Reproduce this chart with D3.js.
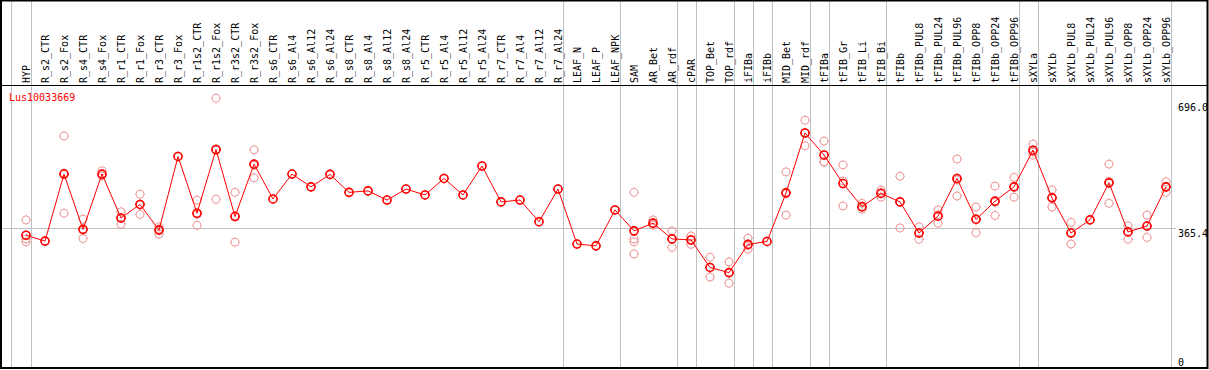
<!DOCTYPE html>
<html>
<head>
<meta charset="utf-8">
<script src="https://cdn.jsdelivr.net/npm/d3@7"></script>
<style>
  html, body { margin: 0; padding: 0; background: #fff; }
  svg { display: block; }
  text { font-family: "DejaVu Sans Mono", monospace; font-size: 10px; }
</style>
</head>
<body>
<div id="chart"></div>
<script>
// gene shown
const geneName = "Lus10033669";

// samples (columns)
const samples = ["HYP",
  "R_s2_CTR", "R_s2_Fox", "R_s4_CTR", "R_s4_Fox", "R_r1_CTR", "R_r1_Fox", "R_r3_CTR", "R_r3_Fox",
  "R_r1s2_CTR", "R_r1s2_Fox", "R_r3s2_CTR", "R_r3s2_Fox",
  "R_s6_CTR", "R_s6_Al4", "R_s6_Al12", "R_s6_Al24", "R_s8_CTR", "R_s8_Al4", "R_s8_Al12", "R_s8_Al24",
  "R_r5_CTR", "R_r5_Al4", "R_r5_Al12", "R_r5_Al24", "R_r7_CTR", "R_r7_Al4", "R_r7_Al12", "R_r7_Al24",
  "LEAF_N", "LEAF_P", "LEAF_NPK", "SAM", "AR_Bet", "AR_rdf", "cPAR", "TOP_Bet", "TOP_rdf",
  "iFIBa", "iFIBb", "MID_Bet", "MID_rdf", "tFIBa", "tFIB_Gr", "tFIB_Li", "tFIB_Bi", "tFIBb",
  "tFIBb_PUL8", "tFIBb_PUL24", "tFIBb_PUL96", "tFIBb_OPP8", "tFIBb_OPP24", "tFIBb_OPP96",
  "sXYLa", "sXYLb", "sXYLb_PUL8", "sXYLb_PUL24", "sXYLb_PUL96", "sXYLb_OPP8", "sXYLb_OPP24", "sXYLb_OPP96"];

// mean expression per sample
const means = [346, 330, 513, 362, 513, 393, 430, 360, 561,
  406, 580, 397, 540,
  445, 513, 478, 512, 463, 467, 442, 472,
  456, 501, 456, 535, 437, 442, 383, 472,
  322, 317, 415, 358, 379, 336, 333, 258, 244,
  321, 329, 461, 625, 565, 487, 424, 460, 437,
  352, 398, 501, 389, 439, 478,
  578, 448, 352, 388, 489, 355, 371, 478];

// individual replicates per sample
const replicates = [[388, 336, 328],
  [], [617, 406, 516], [390, 337, 360], [522, 510, 508], [410, 376, 393], [458, 403, 430], [369, 349, 363], [],
  [442, 373, 403], [720, 444, 578], [463, 327, 399], [579, 503, 537],
  [], [], [], [], [], [], [], [],
  [], [], [], [], [], [], [], [],
  [], [], [], [463, 336, 328, 295], [388, 374, 374], [358, 313, 336], [344, 321, 334], [286, 232, 258], [273, 215, 243],
  [338, 308, 318], [], [519, 401, 464], [660, 590, 626], [603, 546, 546], [538, 426, 494], [433, 417, 422], [469, 450, 463], [507, 366, 437],
  [369, 335, 352], [415, 379, 402], [554, 453, 497], [423, 353, 392], [480, 400, 436], [504, 450, 478],
  [595, 565, 573], [470, 423, 450], [381, 322, 353], [], [540, 433, 493], [372, 335, 357], [401, 340, 372], [492, 463, 477]];

// group separators are drawn after these samples
const groupEnds = ["HYP", "R_r7_Al24", "LEAF_NPK", "AR_rdf", "cPAR", "TOP_rdf", "iFIBa", "iFIBb",
  "MID_rdf", "tFIBa", "tFIB_Bi", "tFIBb_OPP96", "sXYLa", "sXYLb_OPP96"];

// y axis labels on the right
const yTicks = [0, 365.4, 696.0];

const width = 1209, height = 370;

const svg = d3.select("#chart").append("svg")
  .attr("width", width)
  .attr("height", height);

const x = d3.scaleBand()
  .domain(samples)
  .range([11.5, 11.5 + 19 * samples.length]);

const px = s => x(s) + 14.5;

const y = d3.scaleLinear()
  .domain([0, 696])
  .range([362, 107]);

// horizontal guide at the middle value
svg.selectAll(".hgrid")
  .data(yTicks.filter(t => t > 0 && t < 696))
  .enter().append("line")
  .attr("x1", 1).attr("x2", 1176)
  .attr("y1", d => Math.round(y(d)) + 0.5)
  .attr("y2", d => Math.round(y(d)) + 0.5)
  .attr("stroke", "#c0c0c0");

// group separators
svg.selectAll(".vsep")
  .data([x.range()[0] - 1].concat(groupEnds.map(s => x(s) + x.bandwidth())))
  .enter().append("line")
  .attr("x1", d => Math.round(d) + 0.5)
  .attr("x2", d => Math.round(d) + 0.5)
  .attr("y1", 0).attr("y2", 368)
  .attr("stroke", "#c0c0c0");

// header rule
svg.append("line")
  .attr("x1", 0).attr("x2", 1208)
  .attr("y1", 85.5).attr("y2", 85.5)
  .attr("stroke", "#000");

// column labels
svg.selectAll(".clabel")
  .data(samples)
  .enter().append("text")
  .attr("transform", d => "translate(" + (px(d) + 3.5) + ",83) rotate(-90)")
  .attr("fill", "#000")
  .text(d => d);

// right-hand value labels
svg.selectAll(".ylabel")
  .data(yTicks)
  .enter().append("text")
  .attr("x", 1178)
  .attr("y", d => y(d))
  .attr("dy", d => (d > 0 && d < 696) ? "0.85em" : "0.35em")
  .attr("fill", "#000")
  .text(d => d === 0 ? "0" : d.toFixed(1));

// gene name
svg.append("text")
  .attr("x", 9).attr("y", 101)
  .attr("fill", "#ff0000")
  .text(geneName);

// marker: small circle with four tiny nubs
function marker(g, cx, cy, color, sw) {
  const r = 4;
  g.append("circle")
    .attr("cx", cx).attr("cy", cy).attr("r", r)
    .attr("fill", "none").attr("stroke", color).attr("stroke-width", sw);
  [[0, -1], [0, 1], [-1, 0], [1, 0]].forEach(function(v) {
    g.append("line")
      .attr("x1", cx + v[0] * r).attr("y1", cy + v[1] * r)
      .attr("x2", cx + v[0] * (r + 1)).attr("y2", cy + v[1] * (r + 1))
      .attr("stroke", color).attr("stroke-width", 1);
  });
}

// replicate points
const repG = svg.append("g");
samples.forEach(function(s, i) {
  replicates[i].forEach(function(v) {
    marker(repG, px(s), y(v), "#f09a9a", 1);
  });
});

// mean line
svg.append("path")
  .datum(means)
  .attr("fill", "none")
  .attr("stroke", "#ff0000")
  .attr("stroke-width", 1)
  .attr("d", d3.line()
    .x((d, i) => px(samples[i]))
    .y(d => y(d)));

// mean points
const meanG = svg.append("g");
means.forEach(function(v, i) {
  marker(meanG, px(samples[i]), y(v), "#ff0000", 1.6);
});

// frame
svg.append("rect")
  .attr("x", 1).attr("y", 0.5)
  .attr("width", 1206.5).attr("height", 367.5)
  .attr("fill", "none")
  .attr("stroke", "#000")
  .attr("stroke-width", 2);
</script>
</body>
</html>
